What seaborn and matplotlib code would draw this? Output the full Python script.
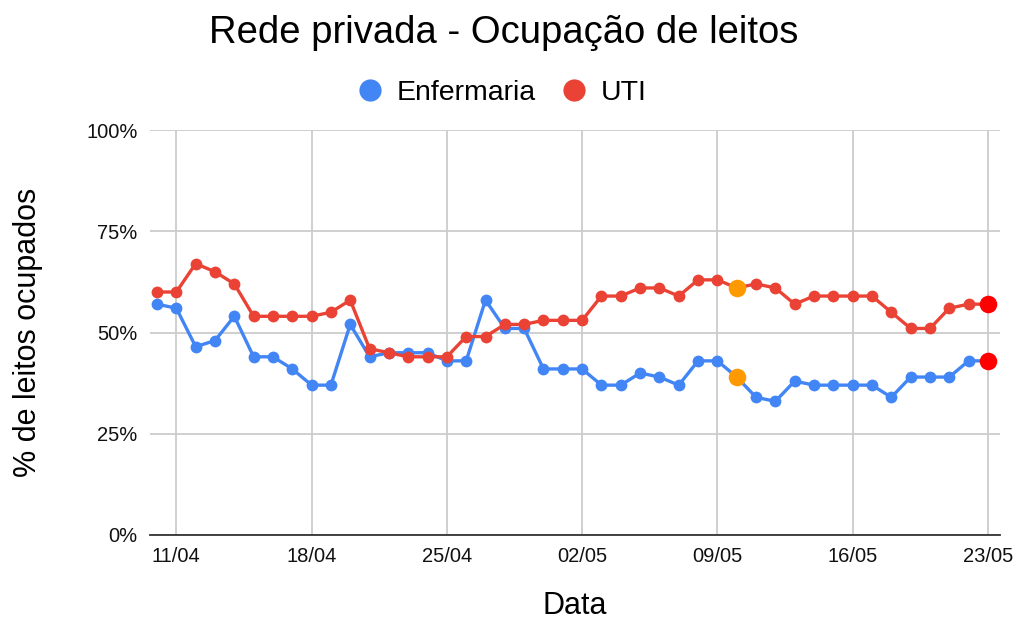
import numpy as np
import pandas as pd
import seaborn as sns
import matplotlib.pyplot as plt
import matplotlib.dates as mdates
from matplotlib.lines import Line2D

# dados: 10/04 a 23/05
datas = pd.date_range('2020-04-10', '2020-05-23', freq='D')
enfermaria = [57, 56, 46.5, 48, 54, 44, 44, 41, 37, 37, 52, 44, 45, 45, 45, 43, 43, 58, 51, 51, 41,
              41, 41, 37, 37, 40, 39, 37, 43, 43, 39, 34, 33, 38, 37, 37, 37, 37, 34, 39, 39, 39, 43, 43]
uti = [60, 60, 67, 65, 62, 54, 54, 54, 54, 55, 58, 46, 45, 44, 44, 44, 49, 49, 52, 52, 53,
       53, 53, 59, 59, 61, 61, 59, 63, 63, 61, 62, 61, 57, 59, 59, 59, 59, 55, 51, 51, 56, 57, 57]
destaque_laranja = '2020-05-10'
destaque_vermelho = '2020-05-23'

cores = {'Enfermaria': '#4285F4', 'UTI': '#EA4335'}

df = pd.DataFrame({'Data': list(datas) * 2,
                   'valor': enfermaria + uti,
                   'serie': ['Enfermaria'] * len(datas) + ['UTI'] * len(datas)})

sns.set_style('white')
plt.rcParams['font.family'] = ['Liberation Sans', 'DejaVu Sans']
plt.rcParams['text.color'] = 'black'
plt.rcParams['axes.labelcolor'] = 'black'

fig = plt.figure(figsize=(10.15, 6.19), dpi=100)
ax = fig.add_axes([150 / 1015, 84 / 619, 850 / 1015, 405 / 619])

sns.lineplot(data=df, x='Data', y='valor', hue='serie', hue_order=['Enfermaria', 'UTI'],
             palette=cores, marker='o', markersize=8.5, markeredgewidth=0,
             linewidth=2.4, legend=False, ax=ax)

hl = df[df['Data'] == pd.Timestamp(destaque_laranja)]
sns.scatterplot(data=hl, x='Data', y='valor', color='#FF9900', s=160, linewidth=0,
                legend=False, ax=ax, zorder=5)
hv = df[df['Data'] == pd.Timestamp(destaque_vermelho)]
sns.scatterplot(data=hv, x='Data', y='valor', color='#FF0000', s=160, linewidth=0,
                legend=False, ax=ax, zorder=5)

ax.set_ylim(0, 100)
ax.set_yticks([0, 25, 50, 75, 100])
ax.set_yticklabels(['0%', '25%', '50%', '75%', '100%'])
ax.set_xlim(datas[0] - pd.Timedelta(hours=8.7), datas[-1] + pd.Timedelta(hours=15))
ax.set_xticks(pd.date_range('2020-04-11', '2020-05-23', freq='7D'))
ax.xaxis.set_major_formatter(mdates.DateFormatter('%d/%m'))

ax.grid(True, color='#cccccc', linewidth=1.3)
ax.set_axisbelow(True)
for s in ['top', 'right', 'left']:
    ax.spines[s].set_visible(False)
ax.spines['bottom'].set_color('#333333')
ax.spines['bottom'].set_linewidth(1.3)
ax.spines['bottom'].set_zorder(3)
ax.tick_params(axis='both', length=0, labelsize=14.5, colors='#111111')
ax.tick_params(axis='y', pad=9)
ax.tick_params(axis='x', pad=9)

ax.set_xlabel('Data', fontsize=22)
ax.set_ylabel('% de leitos ocupados', fontsize=22)
ax.xaxis.set_label_coords(0.5, -0.138)
ax.yaxis.set_label_coords(-0.126, 0.5)

fig.text(0.496, 1 - 33 / 619, 'Rede privada - Ocupação de leitos', fontsize=27.5,
         ha='center', va='center')

handles = [Line2D([], [], marker='o', linestyle='none', markersize=16,
                  markerfacecolor=cores[k], markeredgewidth=0, label=k) for k in cores]
fig.legend(handles=handles, loc='center', bbox_to_anchor=(0.487, 1 - 93 / 619), ncol=2,
           frameon=False, fontsize=20.5, handletextpad=-0.07, columnspacing=0.35)

fig.savefig('out.png', dpi=100)
